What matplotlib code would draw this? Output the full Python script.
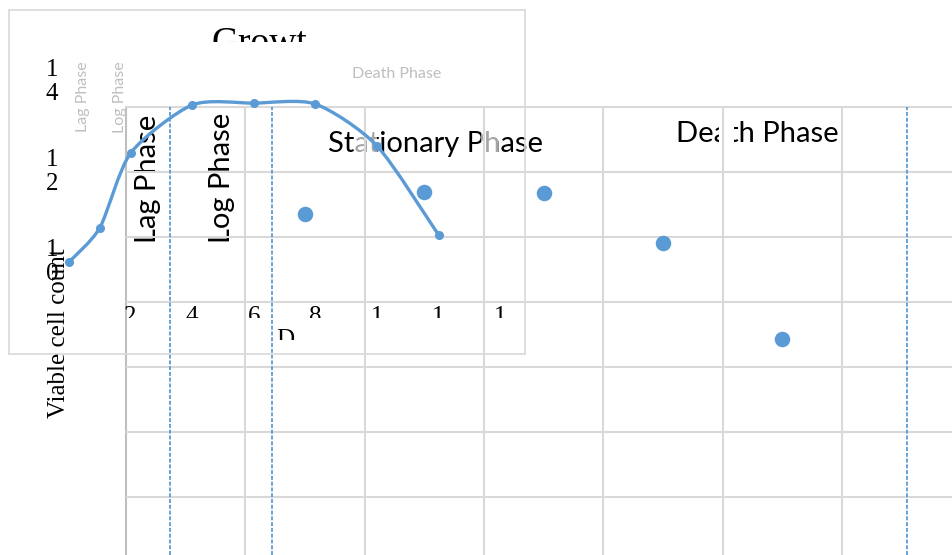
import matplotlib
matplotlib.use("Agg")
import matplotlib.pyplot as plt
from matplotlib.path import Path
from matplotlib.patches import PathPatch, Rectangle
from matplotlib.transforms import Bbox, TransformedBbox, blended_transform_factory
import numpy as np

# inner chart (growth curve)
days = [0, 1, 2, 4, 6, 8, 10, 12]
counts = [10.0, 10.76, 12.42, 13.49, 13.53, 13.51, 12.58, 10.6]
y_ticks = [10, 12, 14]
x_ticks = [2, 4, 6, 8, 10, 12, 14]

# outer chart (loose points and phase markers)
dot_x = [3, 5, 7, 9, 11]
dot_y = [5.35, 5.69, 5.68, 4.91, 3.43]
phase_lines = [0.74, 2.45, 13.09]

BLUE = '#5b9bd5'
GRID = '#d9d9d9'
SANS = 'Lato'
SERIF = 'Liberation Serif'

W, H = 952, 555


def fx(px):
    return px / W


def fy(py):
    return 1 - py / H


def smooth_path(xs, ys, k=8):
    # bezier through the points, like excel smoothed lines
    pts = np.column_stack([xs, ys]).astype(float)
    n = len(pts)
    verts = [pts[0]]
    codes = [Path.MOVETO]
    for i in range(n - 1):
        p0 = pts[i - 1] if i > 0 else pts[i]
        p1 = pts[i]
        p2 = pts[i + 1]
        p3 = pts[i + 2] if i + 2 < n else pts[i + 1]
        c1 = p1 + (p2 - p0) / k
        c2 = p2 - (p3 - p1) / k
        verts += [c1, c2, p2]
        codes += [Path.CURVE4] * 3
    return Path(verts, codes)


fig = plt.figure(figsize=(W / 100, H / 100), dpi=100)

# ---- outer chart ----
ax = fig.add_axes([fx(126), 0, fx(826), 448 / H])
ax.set_xlim(0, 826 / 59.67)
ax.set_ylim(7 - 448 / 65, 7)
ax.set_xticks([2, 4, 6, 8, 10, 12])
ax.set_yticks([1, 2, 3, 4, 5, 6])
ax.tick_params(length=0, labelleft=False, labelbottom=False)
ax.grid(True, color=GRID, linewidth=1.5)
ax.set_axisbelow(False)
for s in ['right', 'bottom']:
    ax.spines[s].set_visible(False)
ax.spines['top'].set_color(GRID)
ax.spines['top'].set_linewidth(1.5)
ax.spines['left'].set_color('#bfbfbf')
ax.spines['left'].set_linewidth(1.5)

for xl in phase_lines:
    ax.axvline(xl, color=BLUE, linewidth=1.3, linestyle=(0, (2.2, 1.0)), zorder=2.6)
ax.scatter(dot_x, dot_y, s=125, color=BLUE, zorder=3, linewidths=0)

big = dict(family=SANS, fontsize=21, color='black', transform=fig.transFigure, zorder=1)
ax.text(fx(148), fy(243), 'Lag Phase', rotation=90, ha='center', va='bottom', **big)
ax.text(fx(222), fy(243), 'Log Phase', rotation=90, ha='center', va='bottom', **big)
ax.text(fx(328), fy(152), 'Stationary Phase', ha='left', va='baseline', **big)
ax.text(fx(676), fy(142), 'Death Phase', ha='left', va='baseline', **big)

# the bits of letters that the original hides behind grid lines
for x0, x1, y0, y1, a in [(355, 377, 125, 162, 0.65), (481, 498, 125, 162, 0.65),
                          (719, 734, 116, 146, 1.0)]:
    ax.add_patch(Rectangle((fx(x0), fy(y1)), fx(x1 - x0), (y1 - y0) / H,
                           transform=fig.transFigure, facecolor='white',
                           edgecolor='none', alpha=a, zorder=1.5))

# ---- inner chart ----
ax2 = fig.add_axes([fx(9), fy(354), fx(516), 344 / H], zorder=1)
ax2.set_xlim((9 - 69) / 30.8, (525 - 69) / 30.8)
ax2.set_ylim(10 - (354 - 262) / 45, 10 + (262 - 10) / 45)
ax2.patch.set_visible(False)
ax2.set_xticks([])
ax2.set_yticks([])
for s in ax2.spines.values():
    s.set_color(GRID)
    s.set_linewidth(1.2)

ax2.add_patch(PathPatch(smooth_path(days, counts), facecolor='none',
                        edgecolor=BLUE, linewidth=2.4, capstyle='round'))
ax2.plot(days, counts, 'o', color=BLUE, markersize=5.5)

serif = dict(family=SERIF, fontsize=18, color='black')
for v in y_ticks:
    ax2.text(-0.55, v, '\n'.join(str(v)), ha='center', va='center',
             linespacing=1.15, clip_on=False, **serif)

tick_clip = TransformedBbox(Bbox([[0, fy(318)], [1, 1]]), fig.transFigure)
tick_tr = blended_transform_factory(ax2.transData, fig.transFigure)
for d in x_ticks:
    t = ax2.text(d, fy(306), '\n'.join(str(d)), ha='center', va='top',
                 transform=tick_tr, **serif)
    t.set_clip_box(tick_clip)
    t.set_clip_on(True)

t = fig.text(fx(285), fy(329), 'D\na\ny\ns', ha='center', va='top', **serif)
t.set_clip_box(TransformedBbox(Bbox([[0, fy(340)], [1, 1]]), fig.transFigure))
t.set_clip_on(True)

t = fig.text(fx(259), fy(53), 'Growt', ha='center', va='baseline',
             family=SERIF, fontsize=27, color='black')
t.set_clip_box(TransformedBbox(Bbox([[0, fy(42)], [1, 1]]), fig.transFigure))
t.set_clip_on(True)

fig.text(fx(59), fy(333), 'Viable cell count', rotation=90, ha='center', va='center',
         family=SERIF, fontsize=18, color='black')

small = dict(family=SANS, fontsize=11.5, color='#bfbfbf')
fig.text(fx(83), fy(97), 'Lag Phase', rotation=90, ha='center', va='center', **small)
fig.text(fx(120), fy(97), 'Log Phase', rotation=90, ha='center', va='center', **small)
fig.text(fx(397), fy(74), 'Death Phase', ha='center', va='center', **small)

fig.savefig('out.png', dpi=100)
